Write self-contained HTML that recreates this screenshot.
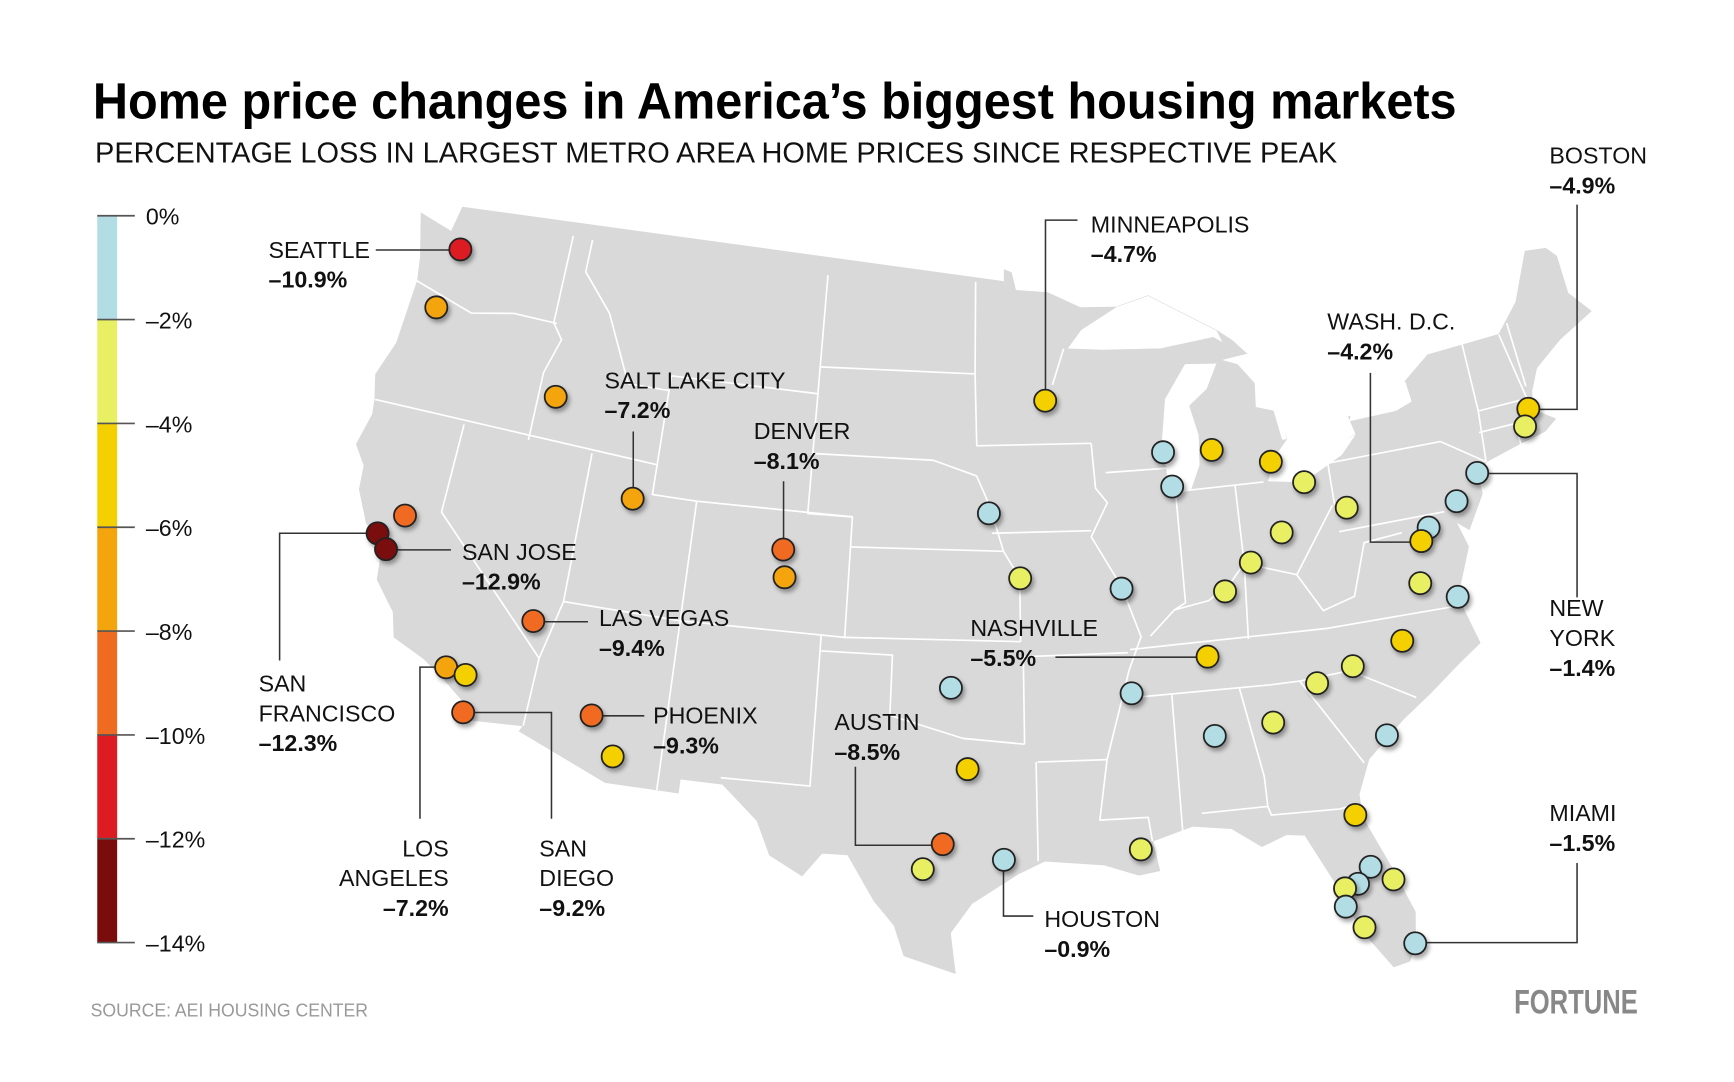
<!DOCTYPE html>
<html><head><meta charset="utf-8"><style>
html,body{margin:0;padding:0;background:#fff;}
svg{display:block;}
text{font-family:"Liberation Sans",sans-serif;}
.nm{font-size:21px;fill:#111;}
.vl{font-size:21px;font-weight:bold;fill:#111;}
.lg{font-size:21px;fill:#111;}
.ld{fill:none;stroke:#333;stroke-width:1.4;}
</style></head><body>
<svg id="chart" width="1734" height="1082" viewBox="0 0 1569 978" preserveAspectRatio="none" xmlns="http://www.w3.org/2000/svg">
<defs><filter id="sh" x="-50%" y="-50%" width="200%" height="200%"><feDropShadow dx="2" dy="3" stdDeviation="2" flood-color="#000" flood-opacity="0.35"/></filter></defs>
<text x="84" y="107" font-size="46" font-weight="bold" textLength="1234" lengthAdjust="spacingAndGlyphs" fill="#000">Home price changes in America’s biggest housing markets</text>
<text x="86" y="147" font-size="26" textLength="1124" lengthAdjust="spacingAndGlyphs" fill="#111">PERCENTAGE LOSS IN LARGEST METRO AREA HOME PRICES SINCE RESPECTIVE PEAK</text>
<g id="map"></g>
<g id="legend"></g>
<g id="leaders"></g>
<g id="dots"></g>
<g id="labels"></g>
<text x="82" y="919" font-size="17" fill="#999" textLength="251" lengthAdjust="spacingAndGlyphs">SOURCE: AEI HOUSING CENTER</text>
<text x="1370" y="916" font-size="31" font-weight="bold" fill="#888" textLength="112" lengthAdjust="spacingAndGlyphs">FORTUNE</text>
</svg>
<script>
const cities=["Seattle","Portland","Boise","Salt Lake City","Sacramento","San Francisco","San Jose","Las Vegas","Los Angeles","Riverside","San Diego","Phoenix","Tucson","Denver","Colorado Springs","Minneapolis","Omaha","Kansas City","St. Louis","Oklahoma City","Dallas","Austin","San Antonio","Houston","New Orleans","Memphis","Nashville","Birmingham","Atlanta","Milwaukee","Chicago","Grand Rapids","Detroit","Cleveland","Columbus","Cincinnati","Louisville","Pittsburgh","Baltimore","Washington","Philadelphia","New York","Richmond","Virginia Beach","Raleigh","Charlotte","Greenville","Charleston","Jacksonville","Orlando","Lakeland","Tampa","Palm Bay","North Port","Cape Coral","Miami","Boston","Providence"];
const lons=[-122.33,-122.68,-116.2,-111.89,-121.49,-122.42,-121.89,-115.14,-118.24,-117.4,-117.16,-112.07,-110.97,-104.99,-104.82,-93.27,-95.94,-94.58,-90.2,-97.52,-96.8,-97.74,-98.49,-95.37,-90.07,-90.05,-86.78,-86.8,-84.39,-87.91,-87.63,-85.67,-83.05,-81.69,-83.0,-84.51,-85.76,-79.99,-76.61,-77.04,-75.17,-74.0,-77.44,-76.0,-78.64,-80.84,-82.4,-79.93,-81.66,-81.38,-81.95,-82.46,-80.6,-82.53,-81.95,-80.19,-71.06,-71.41];
const lats=[47.61,45.52,43.6,40.76,38.58,37.77,37.34,36.17,34.05,33.95,32.72,33.45,32.22,39.74,38.83,44.98,41.26,39.1,38.63,35.47,32.78,30.27,29.42,29.76,29.95,35.15,36.16,33.52,33.75,43.04,41.88,42.96,42.33,41.5,39.96,39.1,38.25,40.44,39.29,38.9,39.95,40.71,37.54,36.85,35.78,35.23,34.85,32.78,30.33,28.54,28.04,27.95,28.0,27.34,26.56,25.76,42.36,41.82];
const changes=[-10.9,-7.0,-7.5,-7.2,-8.6,-12.3,-12.9,-9.4,-7.2,-5.8,-9.2,-9.3,-5.0,-8.1,-7.0,-4.7,-1.6,-3.0,-1.2,-1.3,-5.0,-8.5,-3.6,-0.9,-3.0,-1.1,-5.5,-1.5,-3.4,-1.0,-1.4,-4.4,-4.6,-3.2,-3.5,-3.3,-3.4,-3.4,-1.3,-4.2,-1.6,-1.4,-3.1,-1.5,-4.4,-3.3,-3.0,-1.4,-4.6,-1.2,-1.6,-3.2,-3.0,-1.3,-3.3,-1.5,-4.9,-3.5];
const legendTicks=[0,-2,-4,-6,-8,-10,-12,-14];
const legendLabels=["0%","–2%","–4%","–6%","–8%","–10%","–12%","–14%"];
const binColors=["#b3dde5","#e8ef62","#f5d000","#f4a40c","#f06b22","#dc1c22","#7a0c0c"];

const NS="http://www.w3.org/2000/svg";
function mk(t,a,p){const e=document.createElementNS(NS,t);for(const k in a)e.setAttribute(k,a[k]);p.appendChild(e);return e;}
const D=Math.PI/180,n=(Math.sin(29.5*D)+Math.sin(45.5*D))/2,C=Math.cos(29.5*D)**2+2*n*Math.sin(29.5*D),rho0=Math.sqrt(C-2*n*Math.sin(37.5*D))/n;
function proj(lon,lat){const r=Math.sqrt(C-2*n*Math.sin(lat*D))/n,th=n*(lon+96)*D;return [893.6+1549*r*Math.sin(th),566.6-1549*(rho0-r*Math.cos(th))];}
function pts(a){return a.map(p=>proj(p[0],p[1]).map(v=>v.toFixed(1)).join(",")).join(" ");}
function colorFor(v){let i=Math.floor(-v/2);if(i<0)i=0;if(i>6)i=6;return binColors[i];}

const outline=[[-124.7,48.4],[-123.0,48.1],[-122.8,49.0],[-95.15,49.0],[-95.15,49.4],[-94.8,49.3],[-94.6,48.7],[-93.0,48.6],[-91.4,48.05],[-89.6,48.0],[-88,48.3],[-84.8,46.9],[-84.1,46.5],[-83.5,46.0],[-82.4,45.0],[-82.2,43.0],[-83.1,42.3],[-82.5,41.9],[-81,42.2],[-79,42.8],[-79.2,43.4],[-77,43.6],[-76.3,44.2],[-75.0,44.9],[-71.5,45.0],[-71.1,45.3],[-70.3,45.9],[-69.2,47.45],[-68.2,47.35],[-67.8,47.0],[-67.8,45.7],[-67.0,44.9],[-68.8,44.3],[-70.2,43.6],[-70.7,42.9],[-70.9,42.3],[-70.0,41.8],[-70.6,41.5],[-71.9,41.3],[-73.5,41.0],[-74.0,40.6],[-74.0,40.0],[-74.9,38.95],[-75.4,39.3],[-75.1,38.4],[-75.8,37.2],[-76.3,37.0],[-75.9,36.5],[-75.5,35.2],[-76.5,34.7],[-77.9,33.9],[-79.2,33.2],[-80.8,32.1],[-81.4,31.0],[-81.4,30.2],[-80.6,28.4],[-80.0,26.8],[-80.2,25.7],[-80.5,25.2],[-81.1,25.1],[-81.8,26.1],[-82.6,27.5],[-82.8,28.2],[-83.7,29.9],[-84.4,30.0],[-85.4,29.7],[-86.5,30.4],[-88.0,30.6],[-89.6,30.2],[-89.4,29.2],[-90.2,29.1],[-91.5,29.5],[-93.8,29.7],[-94.8,29.3],[-96.6,28.3],[-97.4,27.3],[-97.2,25.95],[-99.1,26.5],[-99.5,27.5],[-100.3,28.3],[-101.4,29.8],[-102.4,29.8],[-103.1,29.0],[-104.4,29.6],[-105.0,30.7],[-106.5,31.8],[-108.2,31.8],[-108.2,31.33],[-111.1,31.33],[-114.8,32.5],[-114.7,32.7],[-117.1,32.5],[-117.3,33.1],[-118.3,33.7],[-119.2,34.15],[-120.6,34.6],[-120.9,35.4],[-121.9,36.3],[-122.0,37.0],[-122.5,37.7],[-123.0,38.0],[-123.7,39.0],[-123.8,39.8],[-124.4,40.4],[-124.1,41.5],[-124.2,42.0],[-124.5,42.8],[-124.0,44.0],[-123.9,46.2],[-124.1,47.0]];
const lakes=[
[[-87.8,42.0],[-87.5,41.6],[-86.8,41.7],[-86.3,42.5],[-86.2,43.5],[-86.5,44.5],[-85.6,45.0],[-85.0,45.8],[-86.5,45.9],[-87.6,44.8],[-87.9,43.5]],
[[-92.1,46.7],[-90.4,46.6],[-87.6,46.5],[-85.0,46.7],[-84.6,46.5],[-84.8,46.9],[-88,48.3],[-89.6,48.0],[-91.4,47.3]],
[[-82.4,43.0],[-82.6,44.0],[-83.4,44.2],[-83.3,45.0],[-84.0,45.7],[-84.7,45.9],[-83.5,46.0],[-82.2,45.3],[-82.2,43.0]],
[[-83.3,41.7],[-81.7,41.5],[-79.8,42.2],[-79.0,42.8],[-81.0,42.3],[-83.1,42.0]],
[[-79.2,43.25],[-77,43.3],[-76.2,43.5],[-76.3,44.2],[-77.5,43.7],[-79.0,43.6]]];
const borders=[
[[-124,46.2],[-121,45.65],[-119,46.0],[-116.9,46.0]],[[-124.2,42],[-111.05,42]],[[-117.04,49],[-117.04,46],[-116.5,45.5],[-117.0,44.3],[-117.0,42]],
[[-116.05,49],[-116.05,47.9],[-114.5,46.7],[-113,44.5],[-111.05,44.5]],[[-111.05,45],[-111.05,41],[-109.05,41],[-109.05,31.33]],[[-114.05,42],[-114.05,37],[-109.05,37]],
[[-120,42],[-120,39],[-114.6,35],[-114.7,32.7]],[[-114.05,37],[-114.6,35]],[[-109.05,37],[-102.05,37],[-102.05,41],[-109.05,41]],
[[-111.05,45],[-104.05,45],[-104.05,41],[-102.05,41]],[[-104.05,49],[-104.05,45]],[[-104.05,45.9],[-96.6,45.9]],[[-104.05,43],[-98.5,43],[-96.5,42.5]],
[[-103.05,37],[-103.05,32],[-106.6,32]],[[-103,36.5],[-100,36.5],[-100,34.5],[-97,33.8],[-94.5,33.6]],[[-102.05,37],[-94.6,37]],[[-102.05,40],[-95.3,40]],
[[-96.6,49],[-96.6,45.9],[-96.5,43.5],[-91.2,43.5]],[[-95.8,40.6],[-91.4,40.6]],[[-95.3,40],[-95.9,41.5],[-96.5,42.5]],
[[-91.2,43.5],[-91.1,42],[-90.6,41.5],[-91.4,40.4],[-90.2,38.7],[-89.5,37],[-90.1,35.9],[-90.6,34.6],[-91.2,33],[-91.6,31],[-89.7,31],[-89.6,30.2]],
[[-94,33],[-91.2,33]],[[-94.05,33],[-94.05,29.7]],[[-94.5,36.5],[-94.5,33.6]],[[-94.6,36.5],[-90.1,36.5]],[[-94.6,37],[-94.6,39.1],[-95.3,40]],
[[-90.6,42.5],[-87.8,42.5]],[[-92.9,45.5],[-92.3,46.7]],[[-87.5,41.7],[-87.5,38],[-88,37.8]],[[-89.1,37],[-88,37.8],[-86.5,38],[-85.5,38.5],[-84.8,39.1],[-82.6,38.5],[-80.6,40.6]],
[[-84.8,41.7],[-84.8,39.1]],[[-87.5,41.7],[-83.5,41.7]],[[-80.5,42],[-75.3,42],[-73.5,41]],[[-80.5,39.7],[-75.8,39.7]],[[-80.5,42],[-80.5,40.6]],
[[-90,36.6],[-81.7,36.6],[-75.9,36.55]],[[-90.3,35],[-84.3,35]],[[-88.4,35],[-88.4,31],[-88.4,30.4]],[[-85.6,35],[-85,32],[-85.0,31]],
[[-87.6,31],[-85,31],[-84.9,30.7],[-82.2,30.6],[-81.5,30.7]],[[-84.3,35.0],[-83.1,35],[-81,35.1],[-78.5,33.85]],[[-83.1,35],[-81,32]],
[[-73.3,45],[-73.3,42.7],[-73.5,41]],[[-73.3,42.7],[-71,42.7]],[[-71.5,45],[-71,42.7]],[[-70.9,43.1],[-71.0,45.3]],[[-71.8,42.0],[-71.8,41.3]],[[-73.5,42],[-71.8,42]],
[[-82.6,38.5],[-81.7,37.2],[-80.3,37.5],[-79.5,39.2],[-77.8,39.3]],[[-85,36.6],[-84.8,39.1]]];

const map=document.getElementById('map');
let e=mk('polygon',{points:pts(outline),fill:'#d9d9d9',stroke:'#d9d9d9','stroke-width':1},map);


borders.forEach(b=>{const l=mk('polyline',{points:pts(b),fill:'none',stroke:'#fff','stroke-width':1.5,'stroke-linejoin':'round'},map);

});
lakes.forEach(b=>{const l=mk('polygon',{points:pts(b),fill:'#fff'},map);

});

const lg=document.getElementById('legend');
const ly=v=>195+(-v)*(852-195)/14;
for(let i=0;i<7;i++){const r=mk('rect',{x:88,y:ly(legendTicks[i]),width:18,height:ly(legendTicks[i+1])-ly(legendTicks[i]),fill:binColors[i]},lg);

}
legendTicks.forEach((t,i)=>{const y=ly(t);const l=mk('line',{x1:88,x2:122,y1:y,y2:y,stroke:'#555','stroke-width':1.5},lg);


const tx=mk('text',{x:132,y:y+8,class:'lg'},lg);tx.textContent=legendLabels[i];

});

const dg=document.getElementById('dots');
cities.forEach((c,i)=>{const p=proj(lons[i],lats[i]);const d=mk('circle',{cx:p[0],cy:p[1],r:10,fill:colorFor(changes[i]),stroke:'#222','stroke-width':1.6,filter:'url(#sh)'},dg);


const t=mk('title',{},d);t.textContent=c+': '+changes[i]+'%';});

const leaders=[[[340,226],[408,226]],[[573,390],[573,443]],[[709,435],[709,488]],[[975,199],[946,199],[946,354]],[[1427,185],[1427,370],[1391,370]],[[1240,337],[1240,490],[1277,490]],[[1427,540],[1427,428],[1345,428]],[[1427,780],[1427,852],[1289,852]],[[908,786],[908,828],[935,828]],[[774,693],[774,764],[844,764]],[[955,594],[1084,594]],[[544,647],[583,647]],[[491,562],[532,562]],[[358,497],[408,497]],[[253,597],[253,482],[332,482]],[[380,740],[380,603],[394,603]],[[499,740],[499,644],[428,644]]];
const lgg=document.getElementById('leaders');
leaders.forEach(L=>{const l=mk('polyline',{points:L.map(p=>p.join(',')).join(' '),class:'ld'},lgg);

});

const labelDefs=[[0,243,233,["SEATTLE"]],[3,547,351,["SALT LAKE CITY"]],[13,682,397,["DENVER"]],[15,987,210,["MINNEAPOLIS"]],[56,1402,148,["BOSTON"]],[39,1201,298,["WASH. D.C."]],[41,1402,557,["NEW","YORK"]],[55,1402,742,["MIAMI"]],[23,945,838,["HOUSTON"]],[21,755,660,["AUSTIN"]],[26,878,575,["NASHVILLE"]],[11,591,654,["PHOENIX"]],[7,542,566,["LAS VEGAS"]],[6,418,506,["SAN JOSE"]],[5,234,625,["SAN","FRANCISCO"]],[8,406,774,["LOS","ANGELES"],"end"],[10,488,774,["SAN","DIEGO"]]];
const lb=document.getElementById('labels');
labelDefs.forEach(L=>{const g=mk('g',{},lb);


const a=L[4]||'start';let y=L[2];
L[3].forEach(s=>{const t=mk('text',{x:L[1],y:y,class:'nm','text-anchor':a},g);t.textContent=s;y+=27;});
const v=mk('text',{x:L[1],y:y,class:'vl','text-anchor':a},g);v.textContent='–'+Math.abs(changes[L[0]]).toFixed(1)+'%';});
</script>
</body></html>
